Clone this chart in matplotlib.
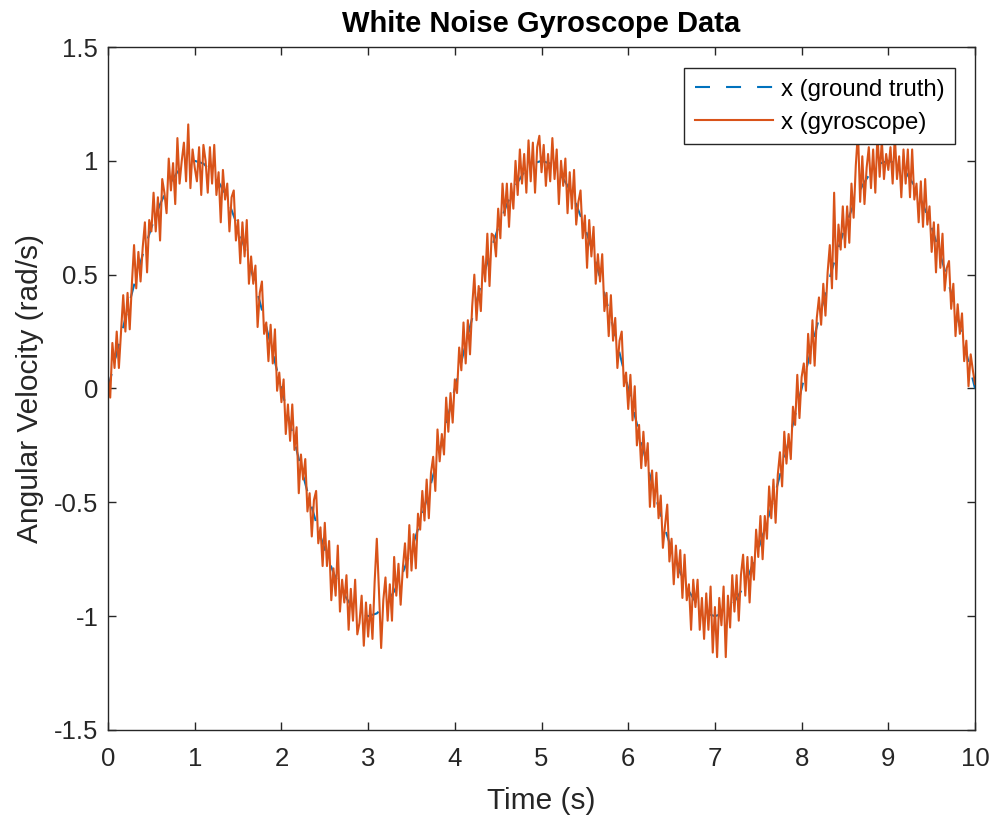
import numpy as np
import matplotlib
matplotlib.use("Agg")
import matplotlib.pyplot as plt

# ground truth angular velocity, sampled every 0.1 s from 0 to 10 s
groundTruth = [
	0.0, 0.156, 0.309, 0.454, 0.588, 0.707, 0.809, 0.891, 0.951, 0.988,
	1.0, 0.988, 0.951, 0.891, 0.809, 0.707, 0.588, 0.454, 0.309, 0.156,
	0.0, -0.156, -0.309, -0.454, -0.588, -0.707, -0.809, -0.891, -0.951, -0.988,
	-1.0, -0.988, -0.951, -0.891, -0.809, -0.707, -0.588, -0.454, -0.309, -0.156,
	0.0, 0.156, 0.309, 0.454, 0.588, 0.707, 0.809, 0.891, 0.951, 0.988,
	1.0, 0.988, 0.951, 0.891, 0.809, 0.707, 0.588, 0.454, 0.309, 0.156,
	0.0, -0.156, -0.309, -0.454, -0.588, -0.707, -0.809, -0.891, -0.951, -0.988,
	-1.0, -0.988, -0.951, -0.891, -0.809, -0.707, -0.588, -0.454, -0.309, -0.156,
	0.0, 0.156, 0.309, 0.454, 0.588, 0.707, 0.809, 0.891, 0.951, 0.988,
	1.0, 0.988, 0.951, 0.891, 0.809, 0.707, 0.588, 0.454, 0.309, 0.156,
	0.0,
]

# noisy gyroscope reading, sampled every 0.025 s from 0 to 10 s
gyroscope = [
	0.05, -0.04, 0.20, 0.09, 0.25, 0.09, 0.25, 0.41, 0.25, 0.42,
	0.26, 0.46, 0.63, 0.44, 0.60, 0.47, 0.62, 0.73, 0.51, 0.74,
	0.69, 0.86, 0.69, 0.84, 0.65, 0.92, 0.86, 0.77, 1.01, 0.87,
	0.99, 0.81, 1.10, 0.90, 1.00, 1.08, 0.91, 1.16, 0.88, 1.05,
	0.97, 0.91, 1.06, 0.85, 1.07, 1.00, 0.86, 1.06, 0.90, 1.07,
	0.85, 0.95, 0.73, 0.96, 0.83, 0.90, 0.69, 0.84, 0.87, 0.65,
	0.74, 0.55, 0.73, 0.58, 0.74, 0.46, 0.58, 0.46, 0.54, 0.27,
	0.42, 0.47, 0.24, 0.29, 0.12, 0.28, 0.11, 0.26, -0.01, 0.07,
	-0.06, 0.04, -0.20, -0.07, -0.23, -0.07, -0.27, -0.17, -0.46, -0.29,
	-0.40, -0.31, -0.54, -0.46, -0.65, -0.49, -0.45, -0.68, -0.61, -0.78,
	-0.59, -0.78, -0.67, -0.93, -0.79, -0.91, -0.69, -0.98, -0.84, -0.94,
	-0.82, -1.06, -0.88, -1.02, -0.84, -1.08, -1.03, -0.91, -1.13, -0.94,
	-1.09, -0.95, -1.10, -0.85, -0.66, -0.89, -1.14, -0.93, -0.83, -1.02,
	-0.86, -1.02, -0.74, -0.91, -0.77, -0.95, -0.79, -0.68, -0.83, -0.60,
	-0.80, -0.64, -0.79, -0.55, -0.62, -0.45, -0.58, -0.40, -0.57, -0.37,
	-0.30, -0.45, -0.18, -0.32, -0.20, -0.29, -0.04, -0.19, -0.02, -0.15,
	0.04, -0.02, 0.18, 0.08, 0.29, 0.11, 0.30, 0.15, 0.36, 0.50,
	0.30, 0.45, 0.34, 0.58, 0.47, 0.68, 0.45, 0.68, 0.67, 0.58,
	0.79, 0.66, 0.90, 0.76, 0.90, 0.71, 0.90, 0.79, 1.00, 0.85,
	1.05, 0.90, 1.03, 0.86, 1.09, 0.91, 1.08, 0.86, 1.06, 1.11,
	0.95, 1.07, 0.89, 1.03, 0.91, 1.10, 0.92, 1.05, 0.81, 1.00,
	0.89, 1.01, 0.77, 0.95, 0.79, 0.96, 0.72, 0.82, 0.87, 0.66,
	0.76, 0.53, 0.74, 0.58, 0.71, 0.46, 0.59, 0.47, 0.59, 0.34,
	0.42, 0.23, 0.41, 0.21, 0.31, 0.09, 0.21, 0.25, 0.01, 0.07,
	-0.09, 0.06, -0.14, 0.01, -0.25, -0.16, -0.35, -0.19, -0.34, -0.24,
	-0.52, -0.36, -0.52, -0.37, -0.57, -0.47, -0.70, -0.60, -0.51, -0.76,
	-0.66, -0.86, -0.69, -0.83, -0.71, -0.92, -0.73, -0.93, -0.86, -1.06,
	-0.84, -0.96, -0.84, -1.06, -0.92, -1.10, -0.90, -1.06, -0.87, -1.16,
	-0.96, -1.18, -0.92, -1.04, -0.87, -1.18, -0.91, -1.05, -0.82, -0.98,
	-0.82, -1.02, -0.82, -0.73, -0.91, -0.74, -0.94, -0.74, -0.84, -0.62,
	-0.74, -0.56, -0.75, -0.56, -0.66, -0.43, -0.57, -0.40, -0.59, -0.38,
	-0.28, -0.43, -0.19, -0.33, -0.20, -0.31, -0.08, -0.16, 0.06, -0.13,
	0.05, 0.11, -0.01, 0.24, 0.11, 0.30, 0.10, 0.31, 0.40, 0.28,
	0.46, 0.32, 0.51, 0.63, 0.44, 0.86, 0.48, 0.72, 0.61, 0.80,
	0.62, 0.80, 0.64, 0.90, 0.75, 0.98, 1.13, 0.82, 1.02, 0.81,
	0.97, 1.06, 0.88, 1.05, 0.86, 1.12, 0.93, 1.09, 0.92, 1.03,
	0.96, 1.06, 0.90, 1.11, 0.92, 1.02, 0.84, 1.05, 0.90, 1.05,
	0.84, 1.05, 0.83, 0.90, 0.73, 0.91, 0.71, 0.92, 0.72, 0.80,
	0.60, 0.73, 0.51, 0.72, 0.53, 0.68, 0.43, 0.53, 0.56, 0.35,
	0.46, 0.23, 0.37, 0.24, 0.33, 0.12, 0.21, 0.01, 0.15, 0.08,
	0.02,
]

xTicks = [0, 1, 2, 3, 4, 5, 6, 7, 8, 9, 10]
yTicks = [-1.5, -1, -0.5, 0, 0.5, 1, 1.5]
yTickLabels = ["-1.5", "-1", "-0.5", "0", "0.5", "1", "1.5"]

BLUE = "#0072BD"
ORANGE = "#D95319"
DARK = "#262626"

plt.rcParams["font.family"] = ["Liberation Sans", "DejaVu Sans"]

fig = plt.figure(figsize=(9.94, 8.19), dpi=100)
ax = fig.add_axes([0.1087, 0.1087, 0.8722, 0.8339])

truthTime = np.linspace(0, 10, len(groundTruth))
gyroTime = np.linspace(0, 10, len(gyroscope))

ax.plot(truthTime, groundTruth, color=BLUE, lw=1.5, dashes=(7.2, 7.7), label="x (ground truth)")
ax.plot(gyroTime, gyroscope, color=ORANGE, lw=1.5, label="x (gyroscope)")

ax.set_xlim(0, 10)
ax.set_ylim(-1.5, 1.5)
ax.set_xticks(xTicks)
ax.set_yticks(yTicks)
ax.set_yticklabels(yTickLabels)

for spine in ax.spines.values():
	spine.set_color(DARK)
	spine.set_linewidth(1.0)
ax.tick_params(direction="in", top=True, right=True, length=6, width=1.0, color=DARK,
	labelcolor=DARK, labelsize=18.5)
ax.tick_params(axis="x", pad=12)
ax.tick_params(axis="y", pad=7)

ax.set_title("White Noise Gyroscope Data", fontsize=21, fontweight="bold", color="black", pad=11)
ax.set_xlabel("Time (s)", fontsize=21.5, color=DARK, labelpad=12)
ax.set_ylabel("Angular Velocity (rad/s)", fontsize=21.5, color=DARK, labelpad=7)

leg = ax.legend(loc="upper right", bbox_to_anchor=(955 / 994, 1 - 68 / 819),
	bbox_transform=fig.transFigure, borderaxespad=0, fontsize=17.3, fancybox=False,
	framealpha=1, edgecolor=DARK, handlelength=3.25, handletextpad=0.3,
	borderpad=0.45, labelspacing=0.45)
leg.get_frame().set_linewidth(1.0)

fig.savefig("out.png", dpi=100)
